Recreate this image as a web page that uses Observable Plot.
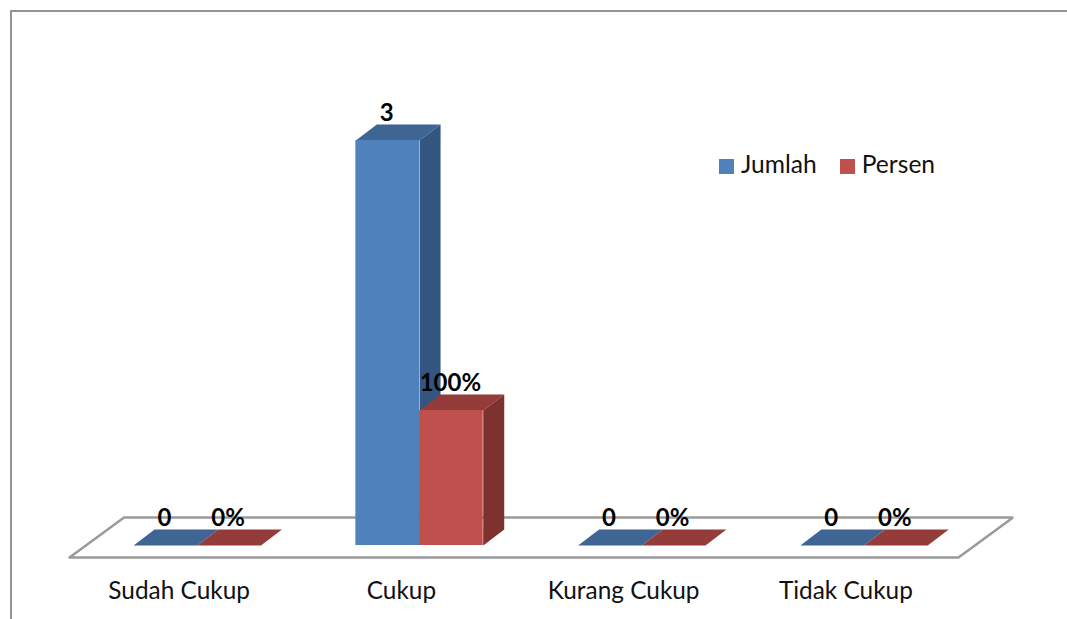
<!DOCTYPE html>
<html>
<head>
<meta charset="utf-8">
<script src="https://cdn.jsdelivr.net/npm/d3@7"></script>
<script src="https://cdn.jsdelivr.net/npm/@observablehq/plot@0.6"></script>
<style>
html,body{margin:0;padding:0;background:#fff;overflow:hidden;width:1067px;height:619px}
#wrap{position:relative;width:1067px;height:619px;overflow:hidden}
#border{position:absolute;left:9.5px;top:10px;width:1200px;height:800px;border-left:2px solid #949494;border-top:2px solid #949494}
#chart{position:absolute;left:0;top:0}
#legend{position:absolute;left:719px;top:150px;font:24.6px Lato,sans-serif;color:#111;line-height:28px;white-space:nowrap}
#legend i{display:inline-block;width:15px;height:15px;margin-right:7px;vertical-align:-1px}
#legend span{margin-right:23px}
</style>
</head>
<body>
<div id="wrap"><div id="border"></div><div id="chart"></div>
<div id="legend"></div></div>
<script>
const categories = ["Sudah Cukup", "Cukup", "Kurang Cukup", "Tidak Cukup"];
const jumlah = [0, 3, 0, 0];
const persen = [0, 1, 0, 0];
const seriesNames = ["Jumlah", "Persen"];
const frontColors = ["#4f81bd", "#c0504d"];
const topColors = ["#3e6593", "#933c3a"];
const sideColors = ["#34557f", "#7d3230"];

// 3-D box geometry in scale units (category widths / value units)
const barStart = 0.2885, barW = 0.2865, depthX = 0.0945, depthY = 0.1185;
const floorFront = -0.089, floorBack = 0.207, floorSkew = 0.2455;

const bars = seriesNames.flatMap((s, k) => categories.map((c, i) => {
  const v = (k === 0 ? jumlah : persen)[i];
  const x0 = i + barStart + k * barW;
  return {s, k, c, i, v, x0, x1: x0 + barW,
    label: k === 0 ? String(v) : d3.format(".0%")(v)};
}));

const faces = bars.flatMap(b => [
  {id: `t${b.k}${b.i}`, fill: topColors[b.k], pts: [[b.x0, b.v], [b.x1, b.v], [b.x1 + depthX, b.v + depthY], [b.x0 + depthX, b.v + depthY]]},
  {id: `s${b.k}${b.i}`, fill: sideColors[b.k], pts: [[b.x1, 0], [b.x1 + depthX, depthY], [b.x1 + depthX, b.v + depthY], [b.x1, b.v]]}
]).flatMap(f => f.pts.map(([x, y]) => ({id: f.id, fill: f.fill, x, y})));

const n = categories.length;
const floor = [[0, floorFront], [n, floorFront], [n + floorSkew, floorBack], [floorSkew, floorBack], [0, floorFront]]
  .map(([x, y]) => ({x, y}));

const plot = Plot.plot({
  width: 1067, height: 619,
  marginLeft: 0, marginRight: 0, marginTop: 0, marginBottom: 62,
  style: {background: "transparent", fontFamily: "Lato, sans-serif"},
  x: {type: "linear", domain: [0, n], range: [69, 958], axis: null},
  y: {type: "linear", domain: [0, 3], range: [545, 140], axis: null},
  color: {type: "identity"},
  marks: [
    Plot.line(floor, {x: "x", y: "y", stroke: "#9a9a9a", strokeWidth: 2.5, strokeLinejoin: "miter"}),
    Plot.line(faces, {x: "x", y: "y", z: "id", fill: "fill", stroke: "none"}),
    Plot.rect(bars.filter(b => b.v > 0), {x1: "x0", x2: "x1", y1: 0, y2: "v", fill: b => frontColors[b.k], inset: 0}),
    Plot.text(bars, {x: b => (b.x0 + b.x1) / 2, y: "v", text: "label", dy: -27, dx: -1,
      fontSize: 24, fontWeight: 700, fill: "#000"}),
    Plot.axisX({anchor: "bottom", ticks: categories.map((c, i) => i + 0.5),
      tickFormat: t => categories[t - 0.5], tickSize: 0, tickPadding: 24, dx: -1.5,
      fontSize: 24.4, fill: "#111", label: null})
  ]
});
document.getElementById("chart").append(plot);

const legend = document.getElementById("legend");
seriesNames.forEach((s, k) => {
  const sp = document.createElement("span");
  const sw = document.createElement("i");
  sw.style.background = frontColors[k];
  sp.append(sw, s);
  legend.append(sp);
});
</script>
</body>
</html>
